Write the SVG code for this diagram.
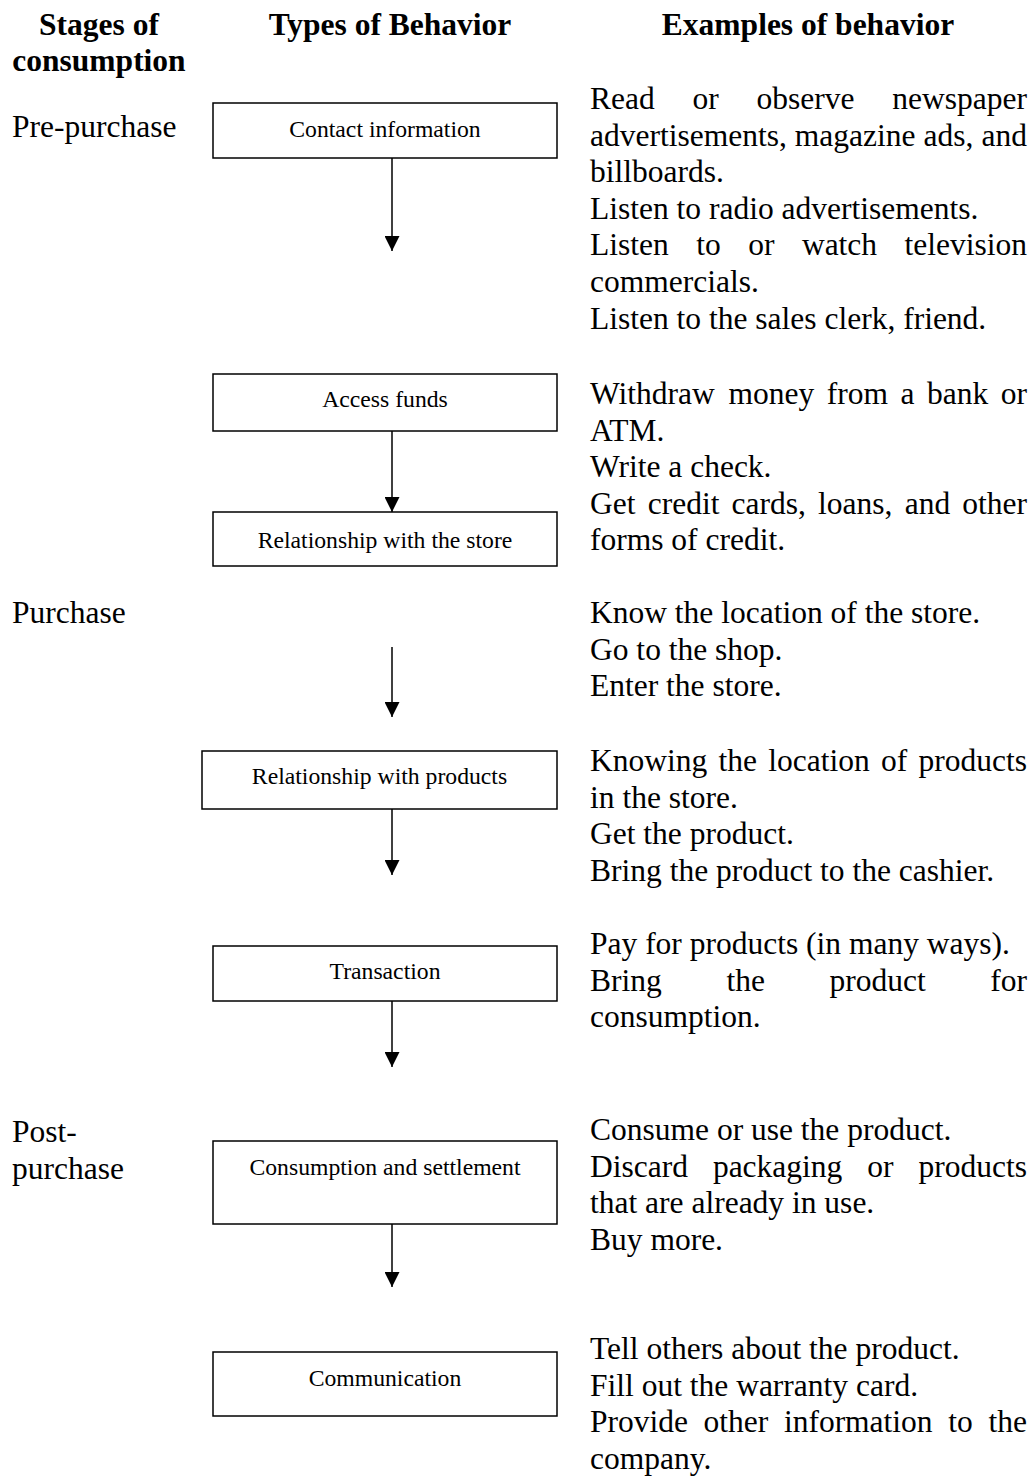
<svg xmlns="http://www.w3.org/2000/svg" width="1035" height="1477" viewBox="0 0 1035 1477">
<style>
text{font-family:"Liberation Serif","Times New Roman",serif;fill:#000}
.h{font-size:31.5px;font-weight:bold;text-anchor:middle}
.b{font-size:31.5px}
.n{font-size:23.7px;text-anchor:middle}
.box{fill:#fff;stroke:#000;stroke-width:1.5}
.c{stroke:#000;stroke-width:1.5;fill:none;marker-end:url(#ah)}
</style>
<defs>
<marker id="ah" viewBox="0 0 10 10" refX="10" refY="5" markerUnits="userSpaceOnUse" markerWidth="15" markerHeight="15" orient="auto">
<path d="M0,0 L10,5 L0,10 z" fill="#000"/>
</marker>
</defs>
<rect width="1035" height="1477" fill="#fff"/>

<g id="headers">
<text class="h" x="99" y="35">Stages of</text>
<text class="h" x="99" y="71">consumption</text>
<text class="h" x="390" y="35">Types of Behavior</text>
<text class="h" x="808" y="35">Examples of behavior</text>
</g>

<g id="stages">
<text class="b" x="12" y="137">Pre-purchase</text>
<text class="b" x="12" y="623">Purchase</text>
<text class="b" x="12" y="1142">Post-</text>
<text class="b" x="12" y="1179">purchase</text>
</g>

<g id="connectors">
<line class="c" x1="392" y1="158" x2="392" y2="251"/>
<line class="c" x1="392" y1="431" x2="392" y2="512"/>
<line class="c" x1="392" y1="647" x2="392" y2="717"/>
<line class="c" x1="392" y1="809" x2="392" y2="875"/>
<line class="c" x1="392" y1="1001" x2="392" y2="1067"/>
<line class="c" x1="392" y1="1224" x2="392" y2="1287"/>
</g>

<g id="n-contact"><rect class="box" x="213" y="103" width="344" height="55"/><text class="n" x="385" y="137">Contact information</text></g>
<g id="n-funds"><rect class="box" x="213" y="374" width="344" height="57"/><text class="n" x="385" y="407">Access funds</text></g>
<g id="n-store"><rect class="box" x="213" y="512" width="344" height="54"/><text class="n" x="385" y="548">Relationship with the store</text></g>
<g id="n-products"><rect class="box" x="202" y="751" width="355" height="58"/><text class="n" x="379.5" y="784">Relationship with products</text></g>
<g id="n-transaction"><rect class="box" x="213" y="946" width="344" height="55"/><text class="n" x="385" y="979">Transaction</text></g>
<g id="n-consumption"><rect class="box" x="213" y="1141" width="344" height="83"/><text class="n" x="385" y="1175">Consumption and settlement</text></g>
<g id="n-communication"><rect class="box" x="213" y="1352" width="344" height="64"/><text class="n" x="385" y="1386">Communication</text></g>

<g id="examples" class="b">
<text class="b" y="109"><tspan x="590">Read</tspan><tspan x="692.5">or</tspan><tspan x="756.5">observe</tspan><tspan x="1027" text-anchor="end">newspaper</tspan></text>
<text class="b" y="145.6"><tspan x="590">advertisements,</tspan><tspan x="794.8">magazine</tspan><tspan x="923.5">ads,</tspan><tspan x="1027" text-anchor="end">and</tspan></text>
<text class="b" x="590" y="182.2">billboards.</text>
<text class="b" x="590" y="218.8">Listen to radio advertisements.</text>
<text class="b" y="255.4"><tspan x="590">Listen</tspan><tspan x="696.2">to</tspan><tspan x="748.2">or</tspan><tspan x="801.9">watch</tspan><tspan x="1027" text-anchor="end">television</tspan></text>
<text class="b" x="590" y="292">commercials.</text>
<text class="b" x="590" y="328.6">Listen to the sales clerk, friend.</text>

<text class="b" y="404"><tspan x="590">Withdraw</tspan><tspan x="728.5">money</tspan><tspan x="826.8">from</tspan><tspan x="900.5">a</tspan><tspan x="927">bank</tspan><tspan x="1027" text-anchor="end">or</tspan></text>
<text class="b" x="590" y="440.6">ATM.</text>
<text class="b" x="590" y="477.2">Write a check.</text>
<text class="b" y="513.8"><tspan x="590">Get</tspan><tspan x="647.7">credit</tspan><tspan x="731.6">cards,</tspan><tspan x="818.1">loans,</tspan><tspan x="904.7">and</tspan><tspan x="1027" text-anchor="end">other</tspan></text>
<text class="b" x="590" y="550.4">forms of credit.</text>

<text class="b" x="590" y="623">Know the location of the store.</text>
<text class="b" x="590" y="659.6">Go to the shop.</text>
<text class="b" x="590" y="696.2">Enter the store.</text>

<text class="b" y="771"><tspan x="590">Knowing</tspan><tspan x="718.5">the</tspan><tspan x="768.2">location</tspan><tspan x="881">of</tspan><tspan x="1027" text-anchor="end">products</tspan></text>
<text class="b" x="590" y="807.6">in the store.</text>
<text class="b" x="590" y="844.2">Get the product.</text>
<text class="b" x="590" y="880.8">Bring the product to the cashier.</text>

<text class="b" x="590" y="954">Pay for products (in many ways).</text>
<text class="b" y="990.6"><tspan x="590">Bring</tspan><tspan x="726.4">the</tspan><tspan x="829.5">product</tspan><tspan x="1027" text-anchor="end">for</tspan></text>
<text class="b" x="590" y="1027.2">consumption.</text>

<text class="b" x="590" y="1140">Consume or use the product.</text>
<text class="b" y="1176.6"><tspan x="590">Discard</tspan><tspan x="712.9">packaging</tspan><tspan x="867.3">or</tspan><tspan x="1027" text-anchor="end">products</tspan></text>
<text class="b" x="590" y="1213.2">that are already in use.</text>
<text class="b" x="590" y="1249.8">Buy more.</text>

<text class="b" x="590" y="1359">Tell others about the product.</text>
<text class="b" x="590" y="1395.6">Fill out the warranty card.</text>
<text class="b" y="1432.2"><tspan x="590">Provide</tspan><tspan x="703.6">other</tspan><tspan x="783.9">information</tspan><tspan x="948.2">to</tspan><tspan x="1027" text-anchor="end">the</tspan></text>
<text class="b" x="590" y="1468.8">company.</text>
</g>
</svg>
